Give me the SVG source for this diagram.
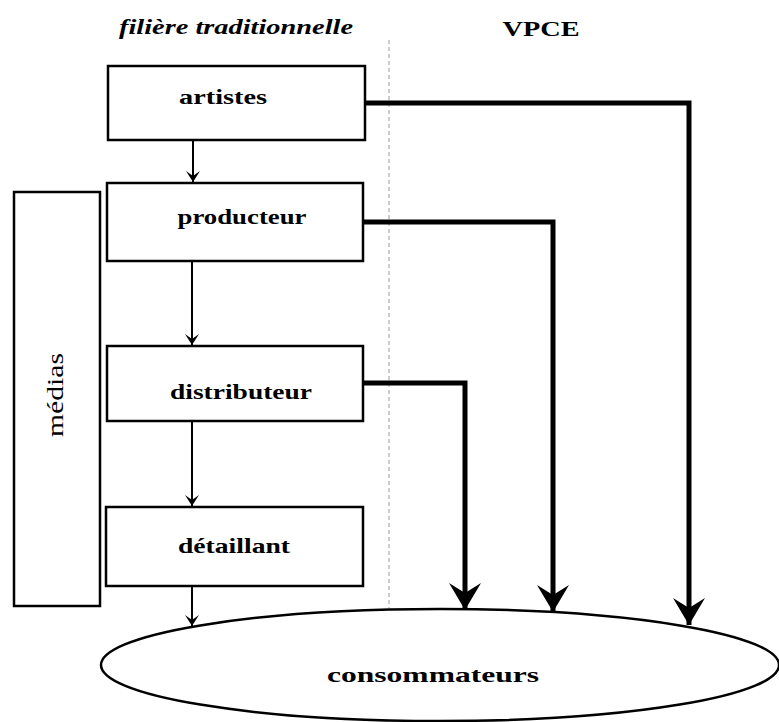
<svg xmlns="http://www.w3.org/2000/svg" width="779" height="722" viewBox="0 0 779 722">
<style>
.box{fill:#fff;stroke:#000;stroke-width:2.5}
.lbl{font-family:"Liberation Serif","DejaVu Serif",serif;font-weight:bold;font-size:21px;text-anchor:middle;fill:#000}
.thin{fill:none;stroke:#000;stroke-width:2}
.thick{fill:none;stroke:#000;stroke-width:5}
</style>
<defs>
<marker id="ah" markerWidth="16" markerHeight="16" viewBox="0 0 16 16" refX="15" refY="8" orient="auto" markerUnits="userSpaceOnUse">
<path d="M4 1 L15 8 L4 15 L9 8 Z" fill="#000"/>
</marker>
<marker id="ahb" markerWidth="36" markerHeight="34" viewBox="0 0 36 34" refX="35" refY="17" orient="auto" markerUnits="userSpaceOnUse">
<path d="M8 1 L35 17 L8 33 L18 17 Z" fill="#000"/>
</marker>
</defs>
<text x="236" y="34" textLength="234" lengthAdjust="spacingAndGlyphs" style="font-family:'Liberation Serif',serif;font-style:italic;font-weight:bold;font-size:22px;text-anchor:middle">filière traditionnelle</text>
<text x="541" y="36" textLength="77" lengthAdjust="spacingAndGlyphs" class="lbl" style="font-size:22px">VPCE</text>
<line x1="389" y1="40" x2="389" y2="608" stroke="#999" stroke-width="1" stroke-dasharray="4,3"/>
<g id="medias"><rect class="box" x="14" y="192" width="86" height="414"/><text transform="translate(63,395) rotate(-90)" textLength="84" lengthAdjust="spacingAndGlyphs" style="font-family:'Liberation Serif',serif;font-size:24px;text-anchor:middle">médias</text></g>
<g id="artistes"><rect class="box" x="108" y="66" width="257" height="74"/><text class="lbl" x="223" y="104" textLength="88" lengthAdjust="spacingAndGlyphs">artistes</text></g>
<g id="producteur"><rect class="box" x="107" y="183" width="256" height="78"/><text class="lbl" x="242" y="224" textLength="129" lengthAdjust="spacingAndGlyphs">producteur</text></g>
<g id="distributeur"><rect class="box" x="107" y="346" width="256" height="75"/><text class="lbl" x="241" y="399" textLength="142" lengthAdjust="spacingAndGlyphs">distributeur</text></g>
<g id="detaillant"><rect class="box" x="106" y="507" width="257" height="79"/><text class="lbl" x="234" y="553" textLength="112" lengthAdjust="spacingAndGlyphs">détaillant</text></g>
<g id="consommateurs"><ellipse cx="440" cy="665" rx="339" ry="56" fill="#fff" stroke="#000" stroke-width="2.5"/><text class="lbl" x="433" y="682" textLength="212" lengthAdjust="spacingAndGlyphs">consommateurs</text></g>
<g id="connectors">
<line class="thin" x1="193" y1="141" x2="193" y2="182" marker-end="url(#ah)"/>
<line class="thin" x1="192" y1="262" x2="192" y2="345" marker-end="url(#ah)"/>
<line class="thin" x1="192" y1="422" x2="192" y2="506" marker-end="url(#ah)"/>
<line class="thin" x1="192" y1="587" x2="192" y2="626" marker-end="url(#ah)"/>
<polyline class="thick" points="365,103 689,103 689,625" marker-end="url(#ahb)"/>
<polyline class="thick" points="363,222 553,222 553,612" marker-end="url(#ahb)"/>
<polyline class="thick" points="363,383 465,383 465,610" marker-end="url(#ahb)"/>
</g>
</svg>
